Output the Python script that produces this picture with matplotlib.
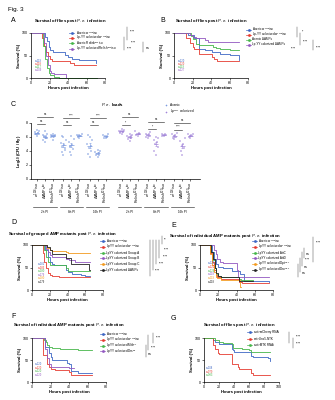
import matplotlib
matplotlib.use("Agg")
import matplotlib.pyplot as plt
import numpy as np
from matplotlib.lines import Line2D
from matplotlib.transforms import blended_transform_factory

plt.rcParams["font.family"] = ["Liberation Sans", "DejaVu Sans"]
plt.rcParams["mathtext.fontset"] = "custom"
plt.rcParams["mathtext.rm"] = "Liberation Sans"
plt.rcParams["mathtext.it"] = "Liberation Sans:italic"
plt.rcParams["mathtext.bf"] = "Liberation Sans:bold"
plt.rcParams["mathtext.default"] = "regular"
plt.rcParams["axes.linewidth"] = 0.5

W, H = 335, 400

BLUE = "#3d66c4"
RED = "#e53a2f"
GREEN = "#45b649"
PURPLE = "#9257c0"
ORANGE = "#f39a1e"
BLACK = "#222222"
C_BLUE = "#7d9be0"
C_PURPLE = "#a184d8"

W1118 = "w$^{1118}$iso"

# ---- A: Relish mutants ----
A_LABELS = ["Axenic " + W1118, "Lp-YY colonized " + W1118,
            "Axenic Relish$^{E20}$iso", "Lp-YY colonized Relish$^{E20}$iso"]
A_N = ["n=119", "n=118", "n=117", "n=109"]
A_HOURS = [
    [0, 15, 17, 19, 21, 24, 37, 40, 44, 52, 62, 70, 70],
    [0, 12, 14, 16, 18, 20, 23, 42, 46, 70],
    [0, 13, 15, 17, 19, 21, 25, 30, 38, 71],
    [0, 14, 16, 18, 20, 22, 25, 38, 38],
]
A_SURV = [
    [100, 92, 82, 70, 62, 57, 52, 46, 43, 41, 40, 40, 33],
    [100, 88, 72, 58, 48, 42, 38, 33, 30, 30],
    [100, 72, 42, 22, 12, 6, 3, 0, 0, 0],
    [100, 78, 50, 30, 16, 11, 10, 0, 0],
]

# ---- B: ΔAMPs ----
B_LABELS = ["Axenic " + W1118, "Lp-YY colonized " + W1118,
            "Axenic ΔAMPs", "Lp-YY colonized ΔAMPs"]
B_N = ["n=120", "n=120", "n=119", "n=127"]
B_HOURS = [
    [0, 15, 22, 27, 34, 41, 50, 60, 70, 70],
    [0, 13, 17, 20, 22, 27, 41, 43, 46, 70],
    [0, 18, 20, 24, 27, 42, 45, 50, 60, 70],
    [0, 17, 20, 24, 33, 37, 42, 70],
]
B_SURV = [
    [100, 95, 89, 65, 62, 57, 53, 51, 50, 40],
    [100, 88, 78, 70, 64, 54, 47, 42, 38, 38],
    [100, 93, 86, 76, 74, 70, 67, 64, 62, 62],
    [100, 96, 92, 88, 85, 81, 81, 81],
]

# ---- C: P.e. loads, log10 CFU per fly ----
C_GENOTYPES = [W1118, "ΔAMPs$^{iso}$", "Relish$^{E20}$iso"]
C_TIMEPOINTS = ["2h PI", "8h PI", "16h PI", "2h PI", "8h PI", "16h PI"]
C_AXENIC = [
    [[6.2, 6.4, 6.5, 6.5, 6.6, 6.7, 6.8, 7.0, 6.4, 6.6],
     [5.3, 5.6, 5.9, 6.0, 6.2, 6.3, 6.5, 6.8, 6.1, 5.8],
     [5.6, 6.0, 6.1, 6.2, 6.2, 6.3, 6.3, 6.4, 6.2]],
    [[3.5, 3.8, 4.2, 4.6, 4.9, 5.2, 5.6, 6.0, 6.2, 4.4],
     [3.5, 3.9, 4.3, 4.6, 4.9, 5.3, 5.7, 6.2, 4.7],
     [5.9, 6.0, 6.1, 6.2, 6.2, 6.3, 6.4, 6.3]],
    [[3.2, 3.6, 4.0, 4.4, 4.7, 5.0, 5.6, 6.0, 6.3],
     [3.2, 3.4, 3.5, 3.6, 3.7, 3.8, 4.0, 4.2],
     [5.8, 5.9, 6.0, 6.1, 6.2, 6.3, 6.4]],
]
C_COLONIZED = [
    [[6.4, 6.6, 6.7, 6.8, 6.8, 6.9, 7.0, 7.2, 6.7],
     [5.5, 5.7, 5.8, 6.0, 6.1, 6.2, 6.3, 6.5],
     [6.1, 6.3, 6.4, 6.5, 6.6, 6.8, 6.4]],
    [[5.9, 6.0, 6.1, 6.3, 6.4, 6.5, 6.7],
     [3.5, 4.0, 4.6, 5.0, 5.3, 5.6, 5.8, 6.0],
     [6.1, 6.2, 6.3, 6.3, 6.4, 6.5]],
    [[5.7, 5.9, 6.0, 6.2, 6.3, 6.5, 6.6],
     [3.4, 4.0, 4.4, 4.7, 5.0, 5.4, 5.8],
     [5.8, 6.0, 6.1, 6.2, 6.3, 6.4, 6.5]],
]
# significance: (w vs ΔAMPs, w vs Relish) per group
C_SIG = [("ns", "ns"), ("ns", "****"), ("ns", "****"),
         ("*", "ns"), ("*", "ns"), ("****", "ns")]

# ---- D: grouped AMP mutants ----
D_LABELS = ["Axenic " + W1118, "LpYY colonized " + W1118,
            "LpYY colonized Group A", "LpYY colonized Group B",
            "LpYY colonized Group C", "LpYY colonized ΔAMPs"]
D_N = ["n=181", "n=183", "n=180", "n=179", "n=180", "n=179"]
D_HOURS = [
    [0, 15, 18, 20, 22, 25, 38, 41, 45, 55, 60, 65],
    [0, 12, 14, 16, 18, 20, 22, 30, 65],
    [0, 14, 16, 18, 20, 23, 38, 41, 65],
    [0, 16, 18, 20, 23, 38, 42, 48, 65],
    [0, 17, 20, 23, 38, 41, 65],
    [0, 17, 20, 23, 38, 44, 64, 65],
]
D_SURV = [
    [100, 88, 74, 62, 57, 55, 45, 40, 36, 33, 31, 31],
    [100, 82, 62, 48, 38, 33, 31, 30, 30],
    [100, 88, 74, 62, 56, 55, 48, 43, 43],
    [100, 92, 85, 78, 74, 70, 66, 63, 63],
    [100, 94, 88, 87, 84, 83, 83],
    [100, 95, 88, 80, 71, 58, 45, 45],
]

# ---- E: individual AMP mutants ----
E_LABELS = ["Axenic " + W1118, "LpYY colonized " + W1118,
            "LpYY colonized AttC", "LpYY colonized AttD",
            "LpYY colonized Dpt$^{SK1}$", "LpYY colonized Dro$^{SK4}$"]
E_N = ["n=120", "n=120", "n=124", "n=118", "n=119", "n=118"]
E_HOURS = [
    [0, 13, 15, 17, 20, 25, 35, 44, 48, 76],
    [0, 11, 13, 15, 17, 19, 23, 43, 46, 76],
    [0, 12, 14, 16, 18, 20, 23, 43, 45, 58],
    [0, 15, 17, 19, 22, 25, 40, 42, 45, 76],
    [0, 11, 13, 15, 17, 19, 23, 44, 45],
    [0, 12, 14, 16, 18, 20, 23, 43, 45, 58],
]
E_SURV = [
    [100, 85, 70, 58, 52, 48, 42, 35, 20, 18],
    [100, 82, 62, 45, 33, 28, 25, 18, 15, 15],
    [100, 85, 66, 48, 36, 31, 29, 24, 22, 22],
    [100, 90, 80, 70, 63, 60, 45, 30, 28, 28],
    [100, 80, 56, 40, 30, 26, 23, 6, 6],
    [100, 84, 68, 50, 37, 31, 28, 21, 20, 20],
]

# ---- F: Mtk / Drs mutants ----
F_LABELS = ["Axenic " + W1118, "LpYY colonized " + W1118,
            "LpYY colonized Mtk$^{R1}$", "LpYY colonized Drs$^{R1}$"]
F_N = ["n=120", "n=120", "n=120", "n=120"]
F_HOURS = [
    [0, 14, 18, 20, 22, 25, 38, 40, 42, 50, 65],
    [0, 12, 16, 18, 20, 25, 40, 42, 45, 65],
    [0, 13, 15, 16, 18, 22, 30, 40, 50, 65],
    [0, 14, 16, 18, 20, 23, 40, 45],
]
F_SURV = [
    [100, 80, 65, 56, 51, 50, 44, 40, 25, 21, 21],
    [100, 62, 42, 33, 30, 28, 22, 17, 16, 16],
    [100, 95, 90, 85, 80, 78, 76, 74, 73, 73],
    [100, 75, 55, 42, 35, 33, 31, 31],
]

# ---- G: RNAi knockdown ----
G_LABELS = ["act>mCherry RNAi", "act>Unc5-NTK", "act>MTK RNAi"]
G_N = ["n=108", "n=079", "n=083"]
G_HOURS = [
    [0, 12, 15, 20, 37, 38, 40, 62, 63, 65, 85, 88, 88],
    [0, 12, 15, 18, 20, 37, 38, 45, 47, 63, 65, 88],
    [0, 15, 20, 25, 37, 38, 50, 60, 63, 88],
]
G_SURV = [
    [100, 95, 92, 87, 76, 72, 68, 63, 60, 57, 55, 55, 48],
    [100, 85, 75, 65, 63, 42, 40, 33, 30, 20, 17, 17],
    [100, 95, 92, 89, 87, 78, 76, 73, 69, 69],
]

COLORS6 = [BLUE, RED, GREEN, PURPLE, ORANGE, BLACK]


def fx(x):
    return x / W


def fy(y):
    return 1 - y / H


def px_axes(fig, x0, x1, ytop, ybot):
    return fig.add_axes([fx(x0), fy(ybot), (x1 - x0) / W, (ybot - ytop) / H])


def legend_rows(fig, x, y0, dy, labels, colors):
    for i, (lab, c) in enumerate(zip(labels, colors)):
        y = fy(y0 + i * dy)
        fig.add_artist(Line2D([fx(x), fx(x + 5)], [y, y], color=c, lw=0.5))
        fig.add_artist(Line2D([fx(x + 2.5)], [y], marker="s", ms=0.9, color=c, lw=0))
        fig.text(fx(x + 6.5), y, lab, fontsize=2.2, va="center", ha="left")


def n_labels(fig, x, y0, dy, texts, colors):
    for i, (t, c) in enumerate(zip(texts, colors)):
        fig.text(fx(x), fy(y0 + i * dy), t, fontsize=1.9, color=c, va="center")


def sig_marks(fig, lines, labels):
    for x, y0, y1 in lines:
        fig.add_artist(Line2D([fx(x), fx(x)], [fy(y0), fy(y1)], color="0.3", lw=0.35))
    for txt, x, y in labels:
        fig.text(fx(x), fy(y), txt, fontsize=2.6 if txt == "ns" else 2.3,
                 va="center", ha="left")


def survival_panel(ax, hours, surv, colors, xmax):
    for t, s, c in zip(hours, surv, colors):
        ax.step(t, s, where="post", color=c, lw=0.6, clip_on=False)
    ax.set_xlim(0, xmax)
    ax.set_ylim(0, 100)
    ax.set_xticks(np.arange(0, xmax + 1, 20))
    ax.set_yticks([0, 50, 100])
    for side in ("top", "right"):
        ax.spines[side].set_visible(False)
    ax.tick_params(labelsize=2.6, length=1.2, width=0.4, pad=0.8)
    ax.set_xlabel("Hours post infection", fontsize=3.1, fontweight="bold", labelpad=1.2)
    ax.set_ylabel("Survival (%)", fontsize=3.1, fontweight="bold", labelpad=1.0)


def title_at(fig, x, y, text):
    fig.text(fx(x), fy(y), text, fontsize=3.1, fontweight="bold", ha="center", va="center")


def panel_label(fig, x, y, text):
    fig.text(fx(x), fy(y), text, fontsize=5, ha="left", va="center")


def loads_panel(fig, ax):
    starts = [0, 3.3, 6.6, 10.6, 13.9, 17.2]
    short_y = [7.85, 7.7, 7.7, 7.7, 7.1, 7.0]
    long_y = [8.9, 8.7, 8.7, 8.9, 8.2, 8.0]
    offsets = [0, -0.22, 0.22, -0.11, 0.11, -0.3, 0.3, 0.0, -0.16, 0.16]
    groups = C_AXENIC + C_COLONIZED
    trans = blended_transform_factory(ax.transData, ax.transAxes)
    xt, xl = [], []
    for g, (start, group) in enumerate(zip(starts, groups)):
        color = C_BLUE if g < 3 else C_PURPLE
        for c, vals in enumerate(group):
            x = start + c
            xs = [x + offsets[k % len(offsets)] for k in range(len(vals))]
            ax.scatter(xs, vals, s=1.2, marker="+", color=color, linewidths=0.35, zorder=3)
            m = np.mean(vals)
            sem = np.std(vals, ddof=1) / np.sqrt(len(vals))
            ax.hlines(m, x - 0.3, x + 0.3, color=color, lw=0.5, zorder=4)
            ax.errorbar(x, m, yerr=sem, color=color, lw=0.4, capsize=0.8,
                        capthick=0.4, fmt="none", zorder=4)
            xt.append(x)
            xl.append(C_GENOTYPES[c])
        short, long_ = C_SIG[g]
        ax.plot([start, start + 1], [short_y[g]] * 2, color="0.2", lw=0.45, clip_on=False)
        ax.text(start + 0.5, short_y[g] + 0.12, short, fontsize=2.2, ha="center", va="bottom")
        ax.plot([start, start + 2], [long_y[g]] * 2, color="0.2", lw=0.45, clip_on=False)
        ax.text(start + 1, long_y[g] + 0.12, long_, fontsize=2.2, ha="center", va="bottom")
        ax.plot([start - 0.45, start + 2.45], [-0.5, -0.5], color="0.2", lw=0.45,
                transform=trans, clip_on=False)
        ax.text(start + 1, -0.56, C_TIMEPOINTS[g], fontsize=2.2, ha="center",
                va="top", transform=trans)
    ax.set_xlim(-0.75, 20.4)
    ax.set_ylim(0, 8)
    ax.set_yticks([0, 2, 4, 6, 8])
    ax.set_xticks(xt)
    ax.set_xticklabels(xl, rotation=90, fontsize=2.1)
    for side in ("top", "right"):
        ax.spines[side].set_visible(False)
    ax.tick_params(labelsize=2.6, length=1.2, width=0.4, pad=0.8)
    ax.set_ylabel("Log$_{10}$ (CFU / fly)", fontsize=3.0, fontweight="bold", labelpad=2)


fig = plt.figure(figsize=(W / 100, H / 100), dpi=100)
fig.text(fx(8), fy(10), "Fig. 3", fontsize=4.5, ha="left", va="center")

# A
panel_label(fig, 11, 20, "A")
title_at(fig, 70, 21, "Survival of flies post $\\it{P.e.}$ infection")
axA = px_axes(fig, 31, 105, 33, 78)
survival_panel(axA, A_HOURS, A_SURV, COLORS6[:4], 80)
legend_rows(fig, 69, 33, 5.2, A_LABELS, COLORS6[:4])
n_labels(fig, 35, 61, 3.0, A_N, COLORS6[:4])
sig_marks(fig, [(127, 27, 40), (124, 37, 50), (143, 42, 52)],
          [("****", 130, 32), ("****", 131, 43), ("****", 127, 48.5), ("ns", 146, 48)])

# B
panel_label(fig, 160, 20, "B")
title_at(fig, 211, 21, "Survival of flies post $\\it{P.e.}$ infection")
axB = px_axes(fig, 174, 248, 33, 78)
survival_panel(axB, B_HOURS, B_SURV, COLORS6[:4], 80)
legend_rows(fig, 246, 29.5, 5.0, B_LABELS, COLORS6[:4])
n_labels(fig, 178, 61, 3.0, B_N, COLORS6[:4])
sig_marks(fig, [(297, 27, 37), (300, 33, 45), (313, 40, 50)],
          [("*", 302, 32), ("****", 303, 42), ("****", 291, 48.5), ("****", 316, 48)])

# C
panel_label(fig, 11, 104, "C")
title_at(fig, 113, 105, "$\\it{P.e.}$ loads")
axC = px_axes(fig, 31, 200, 123, 179)
loads_panel(fig, axC)
fig.add_artist(Line2D([fx(166)], [fy(105)], marker="+", ms=1.5, mew=0.4, color=C_BLUE, lw=0))
fig.text(fx(170), fy(105), "Axenic", fontsize=2.3, va="center")
fig.add_artist(Line2D([fx(166)], [fy(112)], marker="+", ms=1.5, mew=0.4, color=C_PURPLE, lw=0))
fig.text(fx(170), fy(112), "Lp$^{WJL}$ colonized", fontsize=2.3, va="center")

# D
panel_label(fig, 11, 223, "D")
title_at(fig, 63, 234, "Survival of grouped AMP mutants post $\\it{P.e.}$ infection")
axD = px_axes(fig, 32, 103, 245, 290)
survival_panel(axD, D_HOURS, D_SURV, COLORS6, 80)
legend_rows(fig, 100, 241, 5.8, D_LABELS, COLORS6)
n_labels(fig, 38, 264, 3.6, D_N, COLORS6)
sig_marks(fig, [(162, 236, 244), (159, 240, 258), (156, 240, 264), (153, 240, 270), (150, 240, 276)],
          [("**", 164, 240), ("****", 164, 250), ("****", 163, 257), ("****", 159, 264),
           ("****", 155, 271)])

# E
panel_label(fig, 171, 226, "E")
title_at(fig, 225, 236, "Survival of individual AMP mutants post $\\it{P.e.}$ infection")
axE = px_axes(fig, 200, 273, 245, 290)
survival_panel(axE, E_HOURS, E_SURV, COLORS6, 80)
legend_rows(fig, 252, 241, 5.8, E_LABELS, COLORS6)
n_labels(fig, 208, 263, 3.8, E_N, COLORS6)
sig_marks(fig, [(313, 237, 262), (304, 248, 258), (302, 252, 266), (300, 258, 272), (298, 264, 277)],
          [("****", 316, 243), ("ns", 306, 254), ("****", 305, 260), ("ns", 304, 267),
           ("ns", 302, 273)])

# F
panel_label(fig, 11, 316, "F")
title_at(fig, 69, 325, "Survival of individual AMP mutants post $\\it{P.e.}$ infection")
axF = px_axes(fig, 32, 106, 338, 382)
survival_panel(axF, F_HOURS, F_SURV, COLORS6[:4], 80)
legend_rows(fig, 100, 334, 5.8, F_LABELS, COLORS6[:4])
n_labels(fig, 35, 364, 3.6, F_N, COLORS6[:4])
sig_marks(fig, [(153, 333, 343), (148, 335, 350), (146, 345, 357)],
          [("****", 156, 338), ("****", 151, 348), ("ns", 148, 354)])

# G
panel_label(fig, 171, 318, "G")
title_at(fig, 239, 325, "Survival of flies post $\\it{P.e.}$ infection")
axG = px_axes(fig, 204, 279, 338, 382)
survival_panel(axG, G_HOURS, G_SURV, [BLUE, RED, GREEN], 100)
legend_rows(fig, 247, 332, 6.5, G_LABELS, [BLUE, RED, GREEN])
n_labels(fig, 206, 368, 3.6, G_N, [BLUE, RED, GREEN])
sig_marks(fig, [(289, 332, 343), (293, 338, 348)],
          [("****", 296, 337), ("****", 296, 344)])

fig.savefig("out.png", dpi=100)
